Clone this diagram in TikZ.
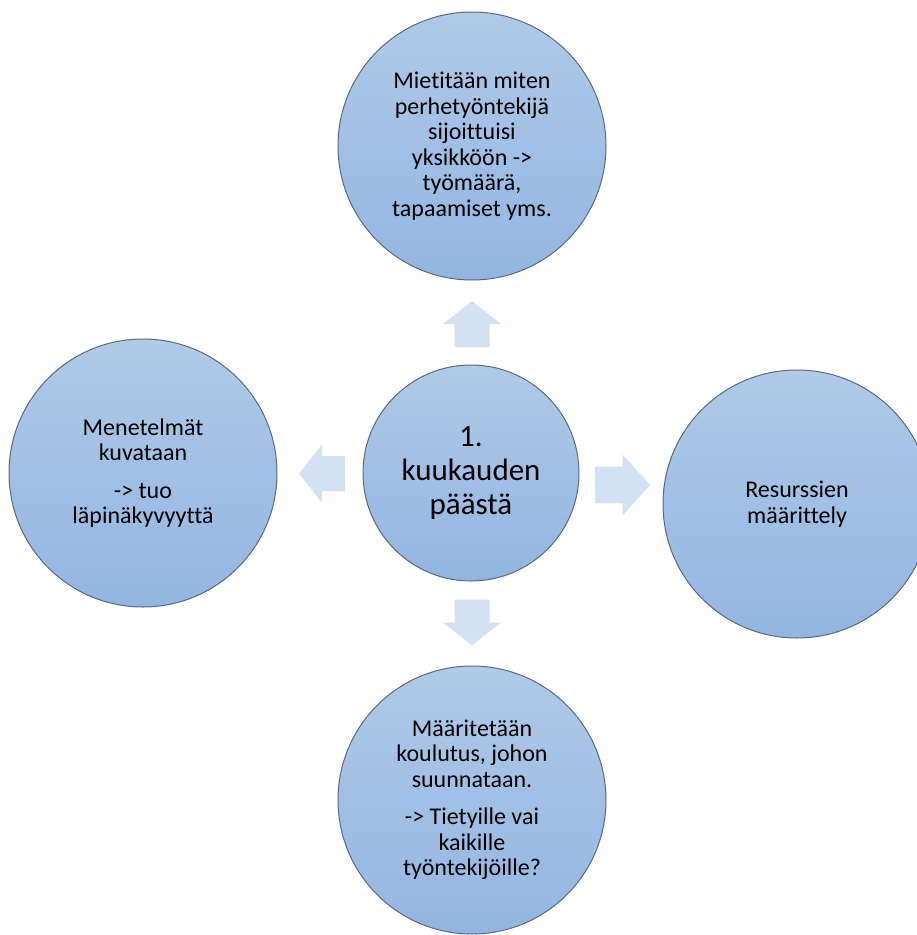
\documentclass[tikz,border=0pt]{standalone}
\usepackage{fontspec}
\setmainfont{Carlito}[Ligatures=NoCommon]
\usetikzlibrary{positioning}
\definecolor{circtop}{HTML}{B0CAE8}
\definecolor{circbot}{HTML}{92B5E1}
\definecolor{circline}{HTML}{5B6B7C}
\definecolor{arrfill}{HTML}{D4E1F2}
\tikzset{
  bubble/.style={circle, draw=circline, line width=1pt, top color=circtop,
    bottom color=circbot, minimum size=268pt, inner sep=0pt, align=center,
    font=\fontsize{24}{25.5}\selectfont},
  hub/.style={bubble, minimum size=216pt, font=\fontsize{31}{34}\selectfont},
  blockarr/.pic={
    \fill[arrfill] (-23,-17.5) -- (0,-17.5) -- (0,-29) -- (23,0) -- (0,29)
      -- (0,17.5) -- (-23,17.5) -- cycle;
  }
}
\begin{document}
\begin{tikzpicture}[x=1pt,y=-1pt]
    \path[use as bounding box, clip] (0,0) rectangle (917,935);

    \node[hub] (kk) at (471,473) {1.\\kuukauden\\päästä};
    \node[bubble] (yla) at (472,146)
        {Mietitään miten\\perhetyöntekijä\\sijoittuisi\\yksikköön ->\\työmäärä,\\tapaamiset yms.};
    \node[bubble] (vasen) at (143,473)
        {Menetelmät\\kuvataan\\[12pt]-> tuo\\läpinäkyvyyttä};
    \node[bubble] (oikea) at (797,504) {Resurssien\\määrittely};
    \node[bubble] (ala) at (472,800)
        {Määritetään\\koulutus, johon\\suunnataan.\\[12pt]-> Tietyille vai\\kaikille\\työntekijöille?};

    % nuolet keskeltä ulospäin
    \pic[rotate=90] (ylanuoli) at (472,324) {blockarr};
    \pic[rotate=-90] (alanuoli) at (472,622.5) {blockarr};
    \pic[rotate=180] (vasennuoli) at (322,473.5) {blockarr};
    \pic[xscale=1.2, yscale=1.05] (oikeanuoli) at (622.5,485) {blockarr};

\end{tikzpicture}
\end{document}
